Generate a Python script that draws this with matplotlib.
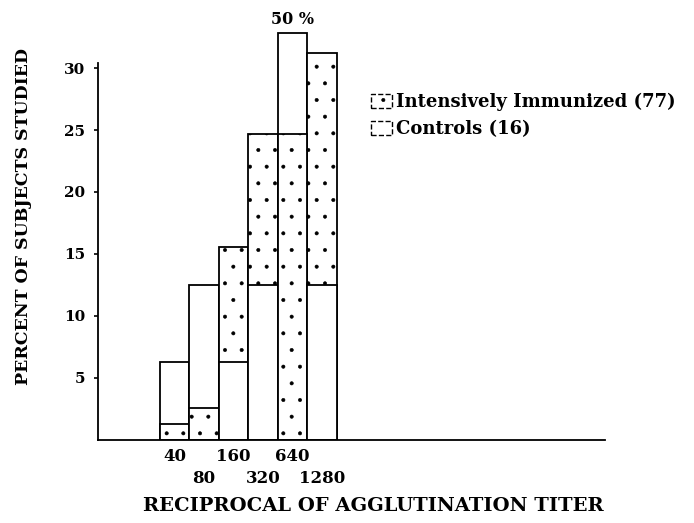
import matplotlib.pyplot as plt
from matplotlib.patches import Patch

# percent of subjects per titer class
titers = ['40', '80', '160', '320', '640', '1280']
immunized = [1.3, 2.6, 15.6, 24.7, 24.7, 31.2]   # n = 77
controls = [6.25, 12.5, 6.25, 12.5, 50.0, 12.5]  # n = 16
yticks = [5, 10, 15, 20, 25, 30]

plt.rcParams['font.family'] = ['DejaVu Serif']
plt.rcParams['font.weight'] = 'bold'
plt.rcParams['axes.labelweight'] = 'bold'
plt.rcParams['hatch.linewidth'] = 0.4
plt.rcParams['hatch.color'] = '#8a8a8a'

cap = 32.8  # off-scale bars are broken here
fig = plt.figure(figsize=(6.94, 5.23), dpi=100)
ax = fig.add_axes([0.141, 0.159, 0.7305, 0.782])

x = list(range(len(titers)))
for i in x:
    imm, con = immunized[i], controls[i]
    # taller bar goes behind
    z_imm, z_con = (1, 2) if imm >= con else (2, 1)
    ax.bar(i, min(imm, cap), width=1, align='center', facecolor='white',
           edgecolor='black', hatch='.', linewidth=1.3, zorder=z_imm)
    ax.bar(i, min(con, cap), width=1, align='center', facecolor='white',
           edgecolor='black', linewidth=1.3, zorder=z_con)
    if con > cap:
        ax.text(i, cap + 0.4, f'{con:.0f} %', ha='center', va='bottom',
                fontsize=11.5, clip_on=False)

ax.set_xlim(-2.6, 14.6)
ax.set_ylim(0, 33)
ax.spines['top'].set_visible(False)
ax.spines['right'].set_visible(False)
ax.spines['left'].set_bounds(0, 30.4)
ax.spines['left'].set_linewidth(1.3)
ax.spines['bottom'].set_linewidth(1.3)

ax.set_yticks(yticks)
ax.set_yticklabels([str(t) for t in yticks], fontsize=11)
ax.tick_params(axis='y', length=3, width=1.2, pad=6)

# staggered titer labels: even classes on the first row, odd on the second
ax.set_xticks(x[0::2])
ax.set_xticklabels(titers[0::2], fontsize=12)
ax.set_xticks(x[1::2], minor=True)
ax.set_xticklabels(titers[1::2], minor=True, fontsize=12)
ax.tick_params(axis='x', which='major', length=0, pad=6)
ax.tick_params(axis='x', which='minor', length=0, pad=22)

ax.set_xlabel('RECIPROCAL OF AGGLUTINATION TITER', fontsize=14)
ax.xaxis.set_label_coords(0.544, -0.14)
ax.set_ylabel('PERCENT OF SUBJECTS STUDIED', fontsize=12.5)
ax.yaxis.set_label_coords(-0.13, 0.545)

handles = [Patch(facecolor='white', edgecolor='black', linestyle='--', hatch='.'),
           Patch(facecolor='white', edgecolor='black', linestyle='--')]
ax.legend(handles, ['Intensively Immunized (77)', 'Controls (16)'],
          loc='upper left', bbox_to_anchor=(0.52, 0.87), frameon=False,
          fontsize=13, handlelength=1.2, handleheight=0.8, handletextpad=0.2,
          labelspacing=0.5, borderpad=0)

fig.savefig('out.png', dpi=100)
